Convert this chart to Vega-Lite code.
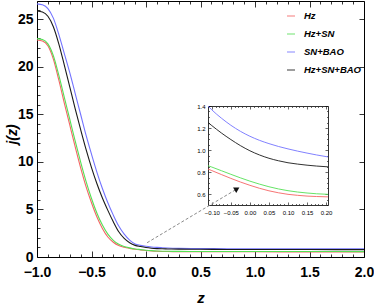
{
  "$schema": "https://vega.github.io/schema/vega-lite/v6.json",
  "width": 327,
  "height": 256,
  "autosize": {"type": "none"},
  "padding": {"left": 37, "top": 1, "right": 10, "bottom": 48},
  "background": "white",
  "config": {
    "view": {"stroke": null},
    "axis": {"grid": false, "domainColor": "#000", "tickColor": "#000", "labelColor": "#000", "labelFlush": false, "labelOverlap": false, "domainWidth": 1, "tickWidth": 0.8, "labelFont": "Liberation Sans", "titleFont": "Liberation Sans"}
  },
  "datasets": {
    "main": [
      {"series": "Hz", "z": -1, "j": 22.8}, {"series": "Hz", "z": -0.95, "j": 22.7}, {"series": "Hz", "z": -0.9, "j": 22.2}, {"series": "Hz", "z": -0.85, "j": 20.8}, {"series": "Hz", "z": -0.8, "j": 18.6}, {"series": "Hz", "z": -0.75, "j": 16.2}, {"series": "Hz", "z": -0.7, "j": 13.9}, {"series": "Hz", "z": -0.65, "j": 11.6}, {"series": "Hz", "z": -0.6, "j": 9.4}, {"series": "Hz", "z": -0.55, "j": 7.4}, {"series": "Hz", "z": -0.5, "j": 5.7}, {"series": "Hz", "z": -0.45, "j": 4.2}, {"series": "Hz", "z": -0.4, "j": 3.0}, {"series": "Hz", "z": -0.35, "j": 2.1}, {"series": "Hz", "z": -0.3, "j": 1.55}, {"series": "Hz", "z": -0.25, "j": 1.2}, {"series": "Hz", "z": -0.2, "j": 1.03}, {"series": "Hz", "z": -0.15, "j": 0.91}, {"series": "Hz", "z": -0.1, "j": 0.813}, {"series": "Hz", "z": -0.05, "j": 0.742}, {"series": "Hz", "z": 0, "j": 0.679}, {"series": "Hz", "z": 0.05, "j": 0.629}, {"series": "Hz", "z": 0.1, "j": 0.597}, {"series": "Hz", "z": 0.15, "j": 0.581}, {"series": "Hz", "z": 0.2, "j": 0.574}, {"series": "Hz", "z": 0.3, "j": 0.566}, {"series": "Hz", "z": 0.5, "j": 0.556}, {"series": "Hz", "z": 0.75, "j": 0.55}, {"series": "Hz", "z": 1, "j": 0.546}, {"series": "Hz", "z": 1.5, "j": 0.54}, {"series": "Hz", "z": 2, "j": 0.536},
      {"series": "Hz+SN", "z": -1, "j": 22.95}, {"series": "Hz+SN", "z": -0.95, "j": 22.85}, {"series": "Hz+SN", "z": -0.9, "j": 22.4}, {"series": "Hz+SN", "z": -0.85, "j": 21.15}, {"series": "Hz+SN", "z": -0.8, "j": 19.1}, {"series": "Hz+SN", "z": -0.75, "j": 16.8}, {"series": "Hz+SN", "z": -0.7, "j": 14.5}, {"series": "Hz+SN", "z": -0.65, "j": 12.2}, {"series": "Hz+SN", "z": -0.6, "j": 10.0}, {"series": "Hz+SN", "z": -0.55, "j": 7.95}, {"series": "Hz+SN", "z": -0.5, "j": 6.15}, {"series": "Hz+SN", "z": -0.45, "j": 4.6}, {"series": "Hz+SN", "z": -0.4, "j": 3.35}, {"series": "Hz+SN", "z": -0.35, "j": 2.4}, {"series": "Hz+SN", "z": -0.3, "j": 1.75}, {"series": "Hz+SN", "z": -0.25, "j": 1.33}, {"series": "Hz+SN", "z": -0.2, "j": 1.1}, {"series": "Hz+SN", "z": -0.15, "j": 0.96}, {"series": "Hz+SN", "z": -0.1, "j": 0.845}, {"series": "Hz+SN", "z": -0.05, "j": 0.779}, {"series": "Hz+SN", "z": 0, "j": 0.717}, {"series": "Hz+SN", "z": 0.05, "j": 0.666}, {"series": "Hz+SN", "z": 0.1, "j": 0.63}, {"series": "Hz+SN", "z": 0.15, "j": 0.609}, {"series": "Hz+SN", "z": 0.2, "j": 0.597}, {"series": "Hz+SN", "z": 0.3, "j": 0.588}, {"series": "Hz+SN", "z": 0.5, "j": 0.58}, {"series": "Hz+SN", "z": 0.75, "j": 0.576}, {"series": "Hz+SN", "z": 1, "j": 0.574}, {"series": "Hz+SN", "z": 1.5, "j": 0.571}, {"series": "Hz+SN", "z": 2, "j": 0.57},
      {"series": "SN+BAO", "z": -1, "j": 26.6}, {"series": "SN+BAO", "z": -0.95, "j": 26.5}, {"series": "SN+BAO", "z": -0.9, "j": 26.1}, {"series": "SN+BAO", "z": -0.85, "j": 25.1}, {"series": "SN+BAO", "z": -0.8, "j": 23.4}, {"series": "SN+BAO", "z": -0.75, "j": 21.4}, {"series": "SN+BAO", "z": -0.7, "j": 19.4}, {"series": "SN+BAO", "z": -0.65, "j": 17.2}, {"series": "SN+BAO", "z": -0.6, "j": 15.0}, {"series": "SN+BAO", "z": -0.55, "j": 12.8}, {"series": "SN+BAO", "z": -0.5, "j": 10.8}, {"series": "SN+BAO", "z": -0.45, "j": 8.9}, {"series": "SN+BAO", "z": -0.4, "j": 7.2}, {"series": "SN+BAO", "z": -0.35, "j": 5.7}, {"series": "SN+BAO", "z": -0.3, "j": 4.4}, {"series": "SN+BAO", "z": -0.25, "j": 3.25}, {"series": "SN+BAO", "z": -0.2, "j": 2.4}, {"series": "SN+BAO", "z": -0.15, "j": 1.78}, {"series": "SN+BAO", "z": -0.1, "j": 1.37}, {"series": "SN+BAO", "z": -0.05, "j": 1.225}, {"series": "SN+BAO", "z": 0, "j": 1.125}, {"series": "SN+BAO", "z": 0.05, "j": 1.058}, {"series": "SN+BAO", "z": 0.1, "j": 1.01}, {"series": "SN+BAO", "z": 0.15, "j": 0.972}, {"series": "SN+BAO", "z": 0.2, "j": 0.94}, {"series": "SN+BAO", "z": 0.3, "j": 0.905}, {"series": "SN+BAO", "z": 0.5, "j": 0.882}, {"series": "SN+BAO", "z": 0.75, "j": 0.872}, {"series": "SN+BAO", "z": 1, "j": 0.868}, {"series": "SN+BAO", "z": 1.5, "j": 0.864}, {"series": "SN+BAO", "z": 2, "j": 0.862},
      {"series": "Hz+SN+BAO", "z": -1, "j": 25.85}, {"series": "Hz+SN+BAO", "z": -0.95, "j": 25.75}, {"series": "Hz+SN+BAO", "z": -0.9, "j": 25.3}, {"series": "Hz+SN+BAO", "z": -0.85, "j": 24.2}, {"series": "Hz+SN+BAO", "z": -0.8, "j": 22.4}, {"series": "Hz+SN+BAO", "z": -0.75, "j": 20.2}, {"series": "Hz+SN+BAO", "z": -0.7, "j": 17.9}, {"series": "Hz+SN+BAO", "z": -0.65, "j": 15.6}, {"series": "Hz+SN+BAO", "z": -0.6, "j": 13.4}, {"series": "Hz+SN+BAO", "z": -0.55, "j": 11.3}, {"series": "Hz+SN+BAO", "z": -0.5, "j": 9.4}, {"series": "Hz+SN+BAO", "z": -0.45, "j": 7.7}, {"series": "Hz+SN+BAO", "z": -0.4, "j": 6.2}, {"series": "Hz+SN+BAO", "z": -0.35, "j": 4.9}, {"series": "Hz+SN+BAO", "z": -0.3, "j": 3.7}, {"series": "Hz+SN+BAO", "z": -0.25, "j": 2.65}, {"series": "Hz+SN+BAO", "z": -0.2, "j": 1.95}, {"series": "Hz+SN+BAO", "z": -0.15, "j": 1.5}, {"series": "Hz+SN+BAO", "z": -0.1, "j": 1.222}, {"series": "Hz+SN+BAO", "z": -0.05, "j": 1.095}, {"series": "Hz+SN+BAO", "z": 0, "j": 0.993}, {"series": "Hz+SN+BAO", "z": 0.05, "j": 0.925}, {"series": "Hz+SN+BAO", "z": 0.1, "j": 0.884}, {"series": "Hz+SN+BAO", "z": 0.15, "j": 0.862}, {"series": "Hz+SN+BAO", "z": 0.2, "j": 0.848}, {"series": "Hz+SN+BAO", "z": 0.3, "j": 0.83}, {"series": "Hz+SN+BAO", "z": 0.5, "j": 0.808}, {"series": "Hz+SN+BAO", "z": 0.75, "j": 0.795}, {"series": "Hz+SN+BAO", "z": 1, "j": 0.787}, {"series": "Hz+SN+BAO", "z": 1.5, "j": 0.781}, {"series": "Hz+SN+BAO", "z": 2, "j": 0.778}
    ],
    "inset": [
      {"series": "Hz", "z": -0.11, "j": 0.827}, {"series": "Hz", "z": -0.1, "j": 0.813}, {"series": "Hz", "z": -0.075, "j": 0.777}, {"series": "Hz", "z": -0.05, "j": 0.742}, {"series": "Hz", "z": -0.025, "j": 0.709}, {"series": "Hz", "z": 0, "j": 0.679}, {"series": "Hz", "z": 0.025, "j": 0.652}, {"series": "Hz", "z": 0.05, "j": 0.629}, {"series": "Hz", "z": 0.075, "j": 0.611}, {"series": "Hz", "z": 0.1, "j": 0.597}, {"series": "Hz", "z": 0.125, "j": 0.588}, {"series": "Hz", "z": 0.15, "j": 0.581}, {"series": "Hz", "z": 0.175, "j": 0.577}, {"series": "Hz", "z": 0.205, "j": 0.574},
      {"series": "Hz+SN", "z": -0.11, "j": 0.857}, {"series": "Hz+SN", "z": -0.1, "j": 0.845}, {"series": "Hz+SN", "z": -0.075, "j": 0.812}, {"series": "Hz+SN", "z": -0.05, "j": 0.779}, {"series": "Hz+SN", "z": -0.025, "j": 0.747}, {"series": "Hz+SN", "z": 0, "j": 0.717}, {"series": "Hz+SN", "z": 0.025, "j": 0.69}, {"series": "Hz+SN", "z": 0.05, "j": 0.666}, {"series": "Hz+SN", "z": 0.075, "j": 0.646}, {"series": "Hz+SN", "z": 0.1, "j": 0.63}, {"series": "Hz+SN", "z": 0.125, "j": 0.618}, {"series": "Hz+SN", "z": 0.15, "j": 0.609}, {"series": "Hz+SN", "z": 0.175, "j": 0.602}, {"series": "Hz+SN", "z": 0.205, "j": 0.597},
      {"series": "SN+BAO", "z": -0.11, "j": 1.4}, {"series": "SN+BAO", "z": -0.1, "j": 1.365}, {"series": "SN+BAO", "z": -0.075, "j": 1.29}, {"series": "SN+BAO", "z": -0.05, "j": 1.225}, {"series": "SN+BAO", "z": -0.025, "j": 1.17}, {"series": "SN+BAO", "z": 0, "j": 1.125}, {"series": "SN+BAO", "z": 0.025, "j": 1.088}, {"series": "SN+BAO", "z": 0.05, "j": 1.058}, {"series": "SN+BAO", "z": 0.075, "j": 1.032}, {"series": "SN+BAO", "z": 0.1, "j": 1.01}, {"series": "SN+BAO", "z": 0.125, "j": 0.99}, {"series": "SN+BAO", "z": 0.15, "j": 0.972}, {"series": "SN+BAO", "z": 0.175, "j": 0.955}, {"series": "SN+BAO", "z": 0.205, "j": 0.937},
      {"series": "Hz+SN+BAO", "z": -0.11, "j": 1.25}, {"series": "Hz+SN+BAO", "z": -0.1, "j": 1.222}, {"series": "Hz+SN+BAO", "z": -0.075, "j": 1.155}, {"series": "Hz+SN+BAO", "z": -0.05, "j": 1.095}, {"series": "Hz+SN+BAO", "z": -0.025, "j": 1.04}, {"series": "Hz+SN+BAO", "z": 0, "j": 0.993}, {"series": "Hz+SN+BAO", "z": 0.025, "j": 0.955}, {"series": "Hz+SN+BAO", "z": 0.05, "j": 0.925}, {"series": "Hz+SN+BAO", "z": 0.075, "j": 0.902}, {"series": "Hz+SN+BAO", "z": 0.1, "j": 0.884}, {"series": "Hz+SN+BAO", "z": 0.125, "j": 0.872}, {"series": "Hz+SN+BAO", "z": 0.15, "j": 0.862}, {"series": "Hz+SN+BAO", "z": 0.175, "j": 0.854}, {"series": "Hz+SN+BAO", "z": 0.205, "j": 0.847}
    ],
    "arrowline": [{"z": 0.01, "j": 1.5}, {"z": 0.82, "j": 7.05}],
    "arrowhead": [{"z": 0.835, "j": 7.15}]
  },
  "resolve": {"scale": {"x": "independent", "y": "independent"}},
  "layer": [
    {
      "mark": {"type": "rule", "color": "#cfcfcf", "strokeWidth": 1.5},
      "encoding": {
        "x": {"datum": 0, "type": "quantitative", "scale": {"domain": [-1, 2], "nice": false, "zero": false}, "axis": null}
      }
    },
    {
      "mark": {"type": "rule", "color": "#000", "strokeWidth": 1.2, "strokeDash": [4, 3]},
      "encoding": {
        "x": {"datum": -1, "type": "quantitative", "scale": {"domain": [-1, 2], "nice": false, "zero": false},
          "axis": {"orient": "top", "labels": false, "title": null, "values": [-1, -0.9, -0.8, -0.7, -0.6, -0.5, -0.4, -0.3, -0.2, -0.1, 0, 0.1, 0.2, 0.3, 0.4, 0.5, 0.6, 0.7, 0.8, 0.9, 1, 1.1, 1.2, 1.3, 1.4, 1.5, 1.6, 1.7, 1.8, 1.9, 2],
            "tickSize": {"condition": {"test": "abs(datum.value*2-round(datum.value*2))<0.001", "value": -6}, "value": -3}}},
        "x2": {"datum": 2},
        "y": {"datum": 1, "type": "quantitative", "scale": {"domain": [0, 26.9], "nice": false, "zero": false},
          "axis": {"orient": "right", "labels": false, "title": null, "values": [0, 5, 10, 15, 20, 25], "tickSize": -5}}
      }
    },
    {
      "data": {"name": "main"},
      "mark": {"type": "line", "strokeWidth": 1.1, "interpolate": "monotone"},
      "encoding": {
        "x": {"field": "z", "type": "quantitative", "scale": {"domain": [-1, 2], "nice": false, "zero": false},
          "axis": {"orient": "bottom", "title": "z", "titleFontSize": 15, "titleFontStyle": "italic", "titleFontWeight": "bold", "titleY": 40, "titleBaseline": "middle",
            "values": [-1, -0.9, -0.8, -0.7, -0.6, -0.5, -0.4, -0.3, -0.2, -0.1, 0, 0.1, 0.2, 0.3, 0.4, 0.5, 0.6, 0.7, 0.8, 0.9, 1, 1.1, 1.2, 1.3, 1.4, 1.5, 1.6, 1.7, 1.8, 1.9, 2],
            "labelExpr": "abs(datum.value*2-round(datum.value*2))<0.001 ? format(datum.value, '.1f') : ''",
            "labelFontSize": 14, "labelFontWeight": "bold", "labelPadding": 14,
            "tickSize": {"condition": {"test": "abs(datum.value*2-round(datum.value*2))<0.001", "value": -6}, "value": -3}}},
        "y": {"field": "j", "type": "quantitative", "scale": {"domain": [0, 26.9], "nice": false, "zero": false},
          "axis": {"orient": "left", "title": "j(z)", "titleFontSize": 14, "titleFontStyle": "italic", "titleFontWeight": "bold", "titleX": -25, "titleY": 133, "titleBaseline": "middle", "titleAngle": 270,
            "values": [0, 1, 2, 3, 4, 5, 6, 7, 8, 9, 10, 11, 12, 13, 14, 15, 16, 17, 18, 19, 20, 21, 22, 23, 24, 25, 26],
            "labelExpr": "datum.value % 5 == 0 ? format(datum.value, 'd') : ''",
            "labelFontSize": 14, "labelFontWeight": "bold", "labelPadding": 10,
            "tickSize": {"condition": {"test": "datum.value % 5 == 0", "value": -6}, "value": -3}}},
        "color": {"field": "series", "type": "nominal",
          "scale": {"domain": ["Hz", "Hz+SN", "SN+BAO", "Hz+SN+BAO"], "range": ["#f56464", "#55e055", "#7373ff", "#1a1a1a"]},
          "legend": {"orient": "none", "legendX": 249, "legendY": 10, "title": null, "symbolType": "stroke", "symbolSize": 64, "symbolStrokeWidth": 1.2, "symbolOpacity": 0.7, "labelFont": "Liberation Sans", "labelFontSize": 9.5, "labelFontStyle": "italic", "labelFontWeight": "bold", "labelOffset": 8, "rowPadding": 8, "padding": 0}}
      }
    },
    {
      "resolve": {"axis": {"x": "independent", "y": "independent"}},
      "layer": [
        {
          "mark": {"type": "rect", "fill": "white"},
          "encoding": {
            "x": {"datum": -0.11, "type": "quantitative", "scale": {"domain": [-0.11, 0.205], "range": [171, 291], "nice": false, "zero": false},
              "axis": {"orient": "bottom", "offset": -52, "title": null, "domainColor": "#333",
                "values": [-0.1, -0.09, -0.08, -0.07, -0.06, -0.05, -0.04, -0.03, -0.02, -0.01, 0, 0.01, 0.02, 0.03, 0.04, 0.05, 0.06, 0.07, 0.08, 0.09, 0.1, 0.11, 0.12, 0.13, 0.14, 0.15, 0.16, 0.17, 0.18, 0.19, 0.2],
                "labelExpr": "abs(datum.value*20-round(datum.value*20))<0.001 ? format(datum.value, '.2f') : ''",
                "labelFontSize": 6, "labelPadding": 7, "tickWidth": 0.6,
                "tickSize": {"condition": {"test": "abs(datum.value*20-round(datum.value*20))<0.001", "value": -3}, "value": -1.5}}},
            "x2": {"datum": 0.205},
            "y": {"datum": 0.5, "type": "quantitative", "scale": {"domain": [0.5, 1.4], "range": [204, 105], "nice": false, "zero": false},
              "axis": {"orient": "left", "offset": -171, "title": null, "domainColor": "#333",
                "values": [0.5, 0.55, 0.6, 0.65, 0.7, 0.75, 0.8, 0.85, 0.9, 0.95, 1, 1.05, 1.1, 1.15, 1.2, 1.25, 1.3, 1.35, 1.4],
                "labelExpr": "abs(datum.value*5-round(datum.value*5))<0.001 ? format(datum.value, '.1f') : ''",
                "labelFontSize": 6, "labelPadding": 6, "tickWidth": 0.6,
                "tickSize": {"condition": {"test": "abs(datum.value*5-round(datum.value*5))<0.001", "value": -3}, "value": -1.5}}},
            "y2": {"datum": 1.4}
          }
        },
        {
          "mark": {"type": "rule", "color": "#d0d0d0", "strokeWidth": 1.2},
          "encoding": {
            "x": {"datum": 0, "type": "quantitative",
              "axis": {"orient": "top", "offset": -105, "title": null, "labels": false, "domainColor": "#333", "tickWidth": 0.6,
                "values": [-0.1, -0.09, -0.08, -0.07, -0.06, -0.05, -0.04, -0.03, -0.02, -0.01, 0, 0.01, 0.02, 0.03, 0.04, 0.05, 0.06, 0.07, 0.08, 0.09, 0.1, 0.11, 0.12, 0.13, 0.14, 0.15, 0.16, 0.17, 0.18, 0.19, 0.2],
                "tickSize": {"condition": {"test": "abs(datum.value*20-round(datum.value*20))<0.001", "value": -3}, "value": -1.5}}},
            "y": {"datum": 0.5, "type": "quantitative",
              "axis": {"orient": "right", "offset": -36, "title": null, "labels": false, "domainColor": "#333", "tickWidth": 0.6,
                "values": [0.5, 0.55, 0.6, 0.65, 0.7, 0.75, 0.8, 0.85, 0.9, 0.95, 1, 1.05, 1.1, 1.15, 1.2, 1.25, 1.3, 1.35, 1.4],
                "tickSize": {"condition": {"test": "abs(datum.value*5-round(datum.value*5))<0.001", "value": -3}, "value": -1.5}}},
            "y2": {"datum": 1.4}
          }
        },
        {
          "mark": {"type": "rule", "color": "#444", "strokeWidth": 1.1, "strokeDash": [3, 2]},
          "encoding": {
            "x": {"datum": -0.11, "type": "quantitative", "axis": null},
            "x2": {"datum": 0.205},
            "y": {"datum": 1, "type": "quantitative", "axis": null}
          }
        },
        {
          "data": {"name": "inset"},
          "mark": {"type": "line", "strokeWidth": 0.9, "interpolate": "monotone"},
          "encoding": {
            "x": {"field": "z", "type": "quantitative", "axis": null},
            "y": {"field": "j", "type": "quantitative", "axis": null},
            "color": {"field": "series", "type": "nominal"}
          }
        }
      ]
    },
    {
      "resolve": {"axis": {"x": "independent", "y": "independent"}},
      "layer": [
        {
          "data": {"name": "arrowline"},
          "mark": {"type": "line", "color": "#8a8a8a", "strokeWidth": 1, "strokeDash": [3, 2]},
          "encoding": {
            "x": {"field": "z", "type": "quantitative", "scale": {"domain": [-1, 2], "nice": false, "zero": false}, "axis": null},
            "y": {"field": "j", "type": "quantitative", "scale": {"domain": [0, 26.9], "nice": false, "zero": false}, "axis": null}
          }
        },
        {
          "data": {"name": "arrowhead"},
          "mark": {"type": "point", "shape": "triangle-up", "filled": true, "color": "#111", "size": 40, "angle": 60, "opacity": 1},
          "encoding": {
            "x": {"field": "z", "type": "quantitative", "axis": null},
            "y": {"field": "j", "type": "quantitative", "axis": null}
          }
        }
      ]
    }
  ]
}
